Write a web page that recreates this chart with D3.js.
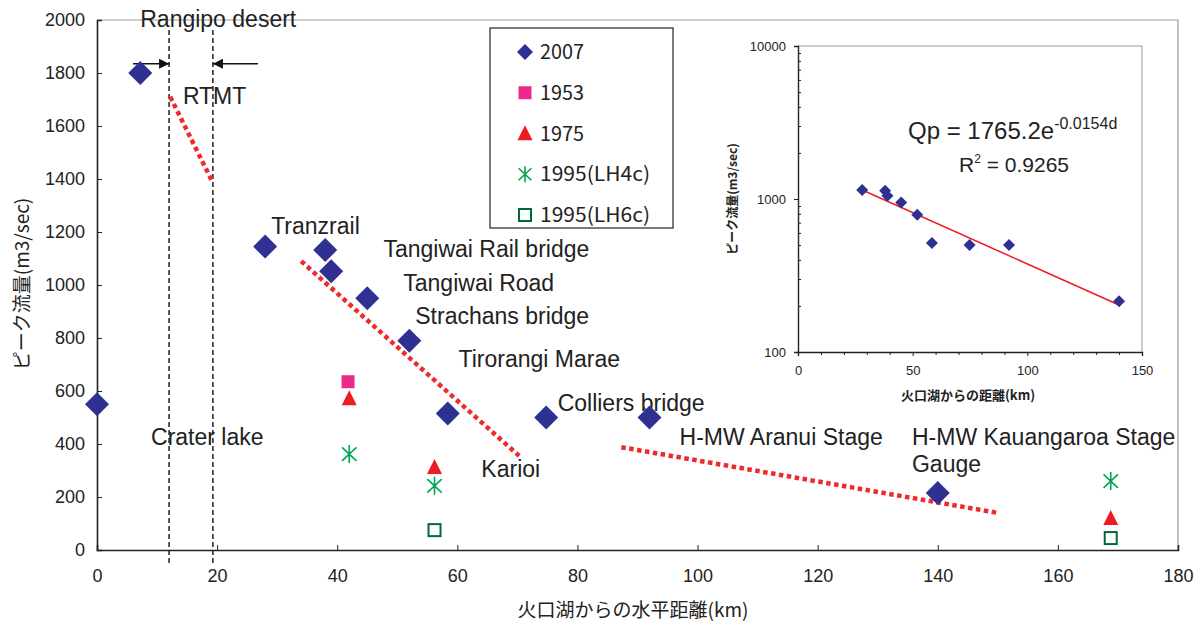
<!DOCTYPE html>
<html>
<head>
<meta charset="utf-8">
<script src="https://cdn.jsdelivr.net/npm/d3@7"></script>
<style>
  body { margin: 0; background: #fff; }
  text { font-family: "Liberation Sans", Arial, sans-serif; }
  .jp { font-family: "Noto Sans CJK JP", sans-serif; }
</style>
</head>
<body>
<div id="chart"></div>
<script>
// ---- data ----
var dist2007 = [0, 7.2, 28, 38, 39, 45, 52, 58.4, 74.8, 92, 140];
var peak2007 = [550, 1800, 1145, 1132, 1052, 950, 790, 515, 500, 500, 215];

var dist1953 = [41.8];
var peak1953 = [635];

var dist1975 = [42, 56.2, 168.8];
var peak1975 = [572, 312, 120];

var distLH4c = [42, 56.2, 168.8];
var peakLH4c = [362, 242, 260];

var distLH6c = [56.2, 168.8];
var peakLH6c = [75, 45];

// red dotted trend segments [x1, y1, x2, y2]
var trendSegs = [
  [12.2, 1710, 19.2, 1390],
  [34, 1090, 70.3, 355],
  [87.3, 388, 150, 140]
];

// inset fit line end points (Qp = 1765.2e^-0.0154d)
var fitDist = [28, 140];
var fitPeak = [1145, 203];

var xTicks = [0, 20, 40, 60, 80, 100, 120, 140, 160, 180];
var yTicks = [0, 200, 400, 600, 800, 1000, 1200, 1400, 1600, 1800, 2000];
var insetXTicks = [0, 50, 100, 150];
var insetXMinor = [10, 20, 30, 40, 60, 70, 80, 90, 110, 120, 130, 140];
var insetYTicks = [100, 1000, 10000];
var insetYMinor = [200, 300, 400, 500, 600, 700, 800, 900, 2000, 3000, 4000, 5000, 6000, 7000, 8000, 9000];

var legendNames = ["2007", "1953", "1975", "1995(LH4c)", "1995(LH6c)"];

var desertBounds = [12, 19.3];

var labels = [
  {t: "Rangipo desert", x: 7.2, y: 1972},
  {t: "RTMT", x: 14.3, y: 1683},
  {t: "Tranzrail", x: 29, y: 1192},
  {t: "Tangiwai Rail bridge", x: 47.7, y: 1106},
  {t: "Tangiwai Road", x: 51, y: 977},
  {t: "Strachans bridge", x: 53, y: 853},
  {t: "Tirorangi Marae", x: 60.2, y: 691},
  {t: "Colliers bridge", x: 76.7, y: 525},
  {t: "Crater lake", x: 9, y: 396},
  {t: "Karioi", x: 64, y: 275},
  {t: "H-MW Aranui Stage", x: 97, y: 396},
  {t: "H-MW Kauangaroa Stage", x: 135.7, y: 396},
  {t: "Gauge", x: 135.7, y: 294}
];

// ---- colours ----
var navy = "#2e3192", pink = "#ec2a8c", red = "#ed1c24",
    green = "#00a651", dkgreen = "#006a35", trendRed = "#ee2a2a";

var W = 1203, H = 625;
var svg = d3.select("#chart").append("svg")
    .attr("width", W).attr("height", H);
svg.append("rect").attr("width", W).attr("height", H).attr("fill", "#fff");

var x = d3.scaleLinear().domain([0, 180]).range([97, 1178]);
var y = d3.scaleLinear().domain([0, 2000]).range([550, 20]);

// frame (top + right, grey)
svg.append("path")
    .attr("d", "M" + x(0) + "," + y(2000) + "H" + x(180) + "V" + y(0))
    .attr("fill", "none").attr("stroke", "#999").attr("stroke-width", 1.2);

// x axis
var xAxis = svg.append("g")
    .attr("transform", "translate(0," + y(0) + ")")
    .call(d3.axisBottom(x).tickValues(xTicks).tickSize(-5).tickPadding(19));
xAxis.select(".domain").attr("stroke", "#222").attr("stroke-width", 1.6);
xAxis.selectAll(".tick line").attr("stroke", "#222");
xAxis.selectAll("text").attr("font-size", 18).attr("fill", "#222")
    .attr("font-family", "Liberation Sans");

// y axis
var yAxis = svg.append("g")
    .attr("transform", "translate(" + x(0) + ",0)")
    .call(d3.axisLeft(y).tickValues(yTicks).tickFormat(d3.format("d"))
      .tickSize(-5).tickPadding(12));
yAxis.select(".domain").attr("stroke", "#222").attr("stroke-width", 1.6);
yAxis.selectAll(".tick line").attr("stroke", "#222");
yAxis.selectAll("text").attr("font-size", 18).attr("fill", "#222")
    .attr("font-family", "Liberation Sans");

// axis titles
svg.append("text").attr("class", "jp")
    .attr("x", 633).attr("y", 617).attr("text-anchor", "middle")
    .attr("font-size", 19).attr("fill", "#222")
    .text("火口湖からの水平距離(km)");
svg.append("text").attr("class", "jp")
    .attr("transform", "translate(29,284) rotate(-90)")
    .attr("text-anchor", "middle")
    .attr("font-size", 19).attr("fill", "#222")
    .text("ピーク流量(m3/sec)");

// dashed desert boundaries
svg.selectAll(".bound").data(desertBounds).enter().append("line")
    .attr("x1", function(d) { return x(d); }).attr("x2", function(d) { return x(d); })
    .attr("y1", 30).attr("y2", 566)
    .attr("stroke", "#111").attr("stroke-width", 1.4)
    .attr("stroke-dasharray", "5,3");

// arrows
var defs = svg.append("defs");
defs.append("marker").attr("id", "ah")
    .attr("viewBox", "0 0 10 10").attr("refX", 10).attr("refY", 5)
    .attr("markerWidth", 12).attr("markerHeight", 10)
    .attr("markerUnits", "userSpaceOnUse").attr("orient", "auto")
  .append("path").attr("d", "M0,0L10,5L0,10Z").attr("fill", "#111");
svg.append("line")
    .attr("x1", x(6)).attr("x2", x(desertBounds[0]))
    .attr("y1", y(1835)).attr("y2", y(1835))
    .attr("stroke", "#111").attr("stroke-width", 1.6).attr("marker-end", "url(#ah)");
svg.append("line")
    .attr("x1", x(26.8)).attr("x2", x(desertBounds[1]))
    .attr("y1", y(1835)).attr("y2", y(1835))
    .attr("stroke", "#111").attr("stroke-width", 1.6).attr("marker-end", "url(#ah)");

// red dotted trend lines
svg.selectAll(".trend").data(trendSegs).enter().append("line")
    .attr("x1", function(d) { return x(d[0]); })
    .attr("y1", function(d) { return y(d[1]); })
    .attr("x2", function(d) { return x(d[2]); })
    .attr("y2", function(d) { return y(d[3]); })
    .attr("stroke", trendRed).attr("stroke-width", 4.5)
    .attr("stroke-dasharray", "4.5,3.5");

// labels
svg.selectAll(".lbl").data(labels).enter().append("text")
    .attr("x", function(d) { return x(d.x); })
    .attr("y", function(d) { return y(d.y); })
    .attr("font-size", 23).attr("fill", "#222")
    .text(function(d) { return d.t; });

// ---- marker helpers ----
function diamond(g, px, py, r) {
  g.append("path")
    .attr("d", "M" + px + "," + (py - r) + "L" + (px + r) + "," + py +
               "L" + px + "," + (py + r) + "L" + (px - r) + "," + py + "Z")
    .attr("fill", navy);
}
function square(g, px, py, s, fill, stroke) {
  g.append("rect").attr("x", px - s / 2).attr("y", py - s / 2)
    .attr("width", s).attr("height", s)
    .attr("fill", fill).attr("stroke", stroke || "none").attr("stroke-width", 2);
}
function triangle(g, px, py, s) {
  g.append("path")
    .attr("d", "M" + px + "," + (py - s * 0.55) + "L" + (px + s / 2) + "," + (py + s * 0.45) +
               "L" + (px - s / 2) + "," + (py + s * 0.45) + "Z")
    .attr("fill", red);
}
function asterisk(g, px, py, r) {
  var p = "M" + px + "," + (py - r) + "V" + (py + r) +
          "M" + (px - r * 0.8) + "," + (py - r * 0.75) + "L" + (px + r * 0.8) + "," + (py + r * 0.75) +
          "M" + (px + r * 0.8) + "," + (py - r * 0.75) + "L" + (px - r * 0.8) + "," + (py + r * 0.75);
  g.append("path").attr("d", p).attr("stroke", green).attr("stroke-width", 1.6).attr("fill", "none");
}

var marks = svg.append("g");
dist2007.forEach(function(d, i) { diamond(marks, x(d), y(peak2007[i]), 12); });
dist1953.forEach(function(d, i) { square(marks, x(d), y(peak1953[i]), 13, pink); });
dist1975.forEach(function(d, i) { triangle(marks, x(d), y(peak1975[i]), 15); });
distLH4c.forEach(function(d, i) { asterisk(marks, x(d), y(peakLH4c[i]), 9); });
distLH6c.forEach(function(d, i) { square(marks, x(d), y(peakLH6c[i]), 12, "none", dkgreen); });

// ---- legend ----
var leg = svg.append("g");
leg.append("rect").attr("x", 490).attr("y", 28).attr("width", 183).attr("height", 200)
    .attr("fill", "#fff").attr("stroke", "#222").attr("stroke-width", 1.2);
var legY = d3.scalePoint().domain(legendNames).range([52, 215]);
legendNames.forEach(function(n, i) {
  var cy = legY(n), cx = 525;
  if (i === 0) diamond(leg, cx, cy, 8);
  if (i === 1) square(leg, cx, cy, 13, pink);
  if (i === 2) triangle(leg, cx, cy, 15);
  if (i === 3) asterisk(leg, cx, cy, 8);
  if (i === 4) square(leg, cx, cy, 12, "none", dkgreen);
  leg.append("text").attr("class", "jp")
    .attr("x", 540).attr("y", cy + 7)
    .attr("font-size", 20).attr("fill", "#222")
    .attr("textLength", n.length * 11).attr("lengthAdjust", "spacingAndGlyphs")
    .text(n);
});

// ---- inset (log scale) ----
var xi = d3.scaleLinear().domain([0, 150]).range([798, 1142]);
var yi = d3.scaleLog().domain([100, 10000]).range([352, 46]);
var inset = svg.append("g");

inset.append("path")
    .attr("d", "M" + xi(0) + "," + yi(10000) + "H" + xi(150) + "V" + yi(100))
    .attr("fill", "none").attr("stroke", "#999").attr("stroke-width", 1);

inset.append("g").attr("transform", "translate(0," + yi(100) + ")")
    .call(d3.axisBottom(xi).tickValues(insetXTicks).tickSize(4).tickPadding(10));
inset.append("g").attr("transform", "translate(0," + yi(100) + ")")
    .call(d3.axisBottom(xi).tickValues(insetXMinor).tickSize(3).tickFormat(""))
    .select(".domain").remove();
inset.append("g").attr("transform", "translate(" + xi(0) + ",0)")
    .call(d3.axisLeft(yi).tickValues(insetYTicks).tickFormat(d3.format("d")).tickSize(4).tickPadding(8));
inset.append("g").attr("transform", "translate(" + xi(0) + ",0)")
    .call(d3.axisLeft(yi).tickValues(insetYMinor).tickFormat("").tickSize(-3))
    .select(".domain").remove();
inset.selectAll(".domain").attr("stroke", "#222").attr("stroke-width", 1.4);
inset.selectAll(".tick line").attr("stroke", "#222");
inset.selectAll("text").attr("font-size", 13).attr("fill", "#222")
    .attr("font-family", "Liberation Sans");

inset.append("text").attr("class", "jp")
    .attr("x", 968).attr("y", 400).attr("text-anchor", "middle")
    .attr("font-size", 13).attr("font-weight", "bold").attr("fill", "#222")
    .text("火口湖からの距離(km)");
inset.append("text").attr("class", "jp")
    .attr("transform", "translate(737,199) rotate(-90)").attr("text-anchor", "middle")
    .attr("font-size", 12).attr("font-weight", "bold").attr("fill", "#222")
    .text("ピーク流量(m3/sec)");

inset.append("line")
    .attr("x1", xi(fitDist[0])).attr("y1", yi(fitPeak[0]))
    .attr("x2", xi(fitDist[1])).attr("y2", yi(fitPeak[1]))
    .attr("stroke", red).attr("stroke-width", 1.5);

dist2007.forEach(function(d, i) {
  if (d >= 20) diamond(inset, xi(d), yi(peak2007[i]), 6);
});

var eq = inset.append("text").attr("x", 908).attr("y", 139)
    .attr("font-size", 24).attr("fill", "#222");
eq.append("tspan").text("Qp = 1765.2e");
eq.append("tspan").attr("dy", -10).attr("font-size", 16).text("-0.0154d");
var r2 = inset.append("text").attr("x", 959).attr("y", 172)
    .attr("font-size", 21).attr("fill", "#222");
r2.append("tspan").text("R");
r2.append("tspan").attr("dy", -9).attr("font-size", 12).text("2");
r2.append("tspan").attr("dy", 9).text(" = 0.9265");
</script>
</body>
</html>
